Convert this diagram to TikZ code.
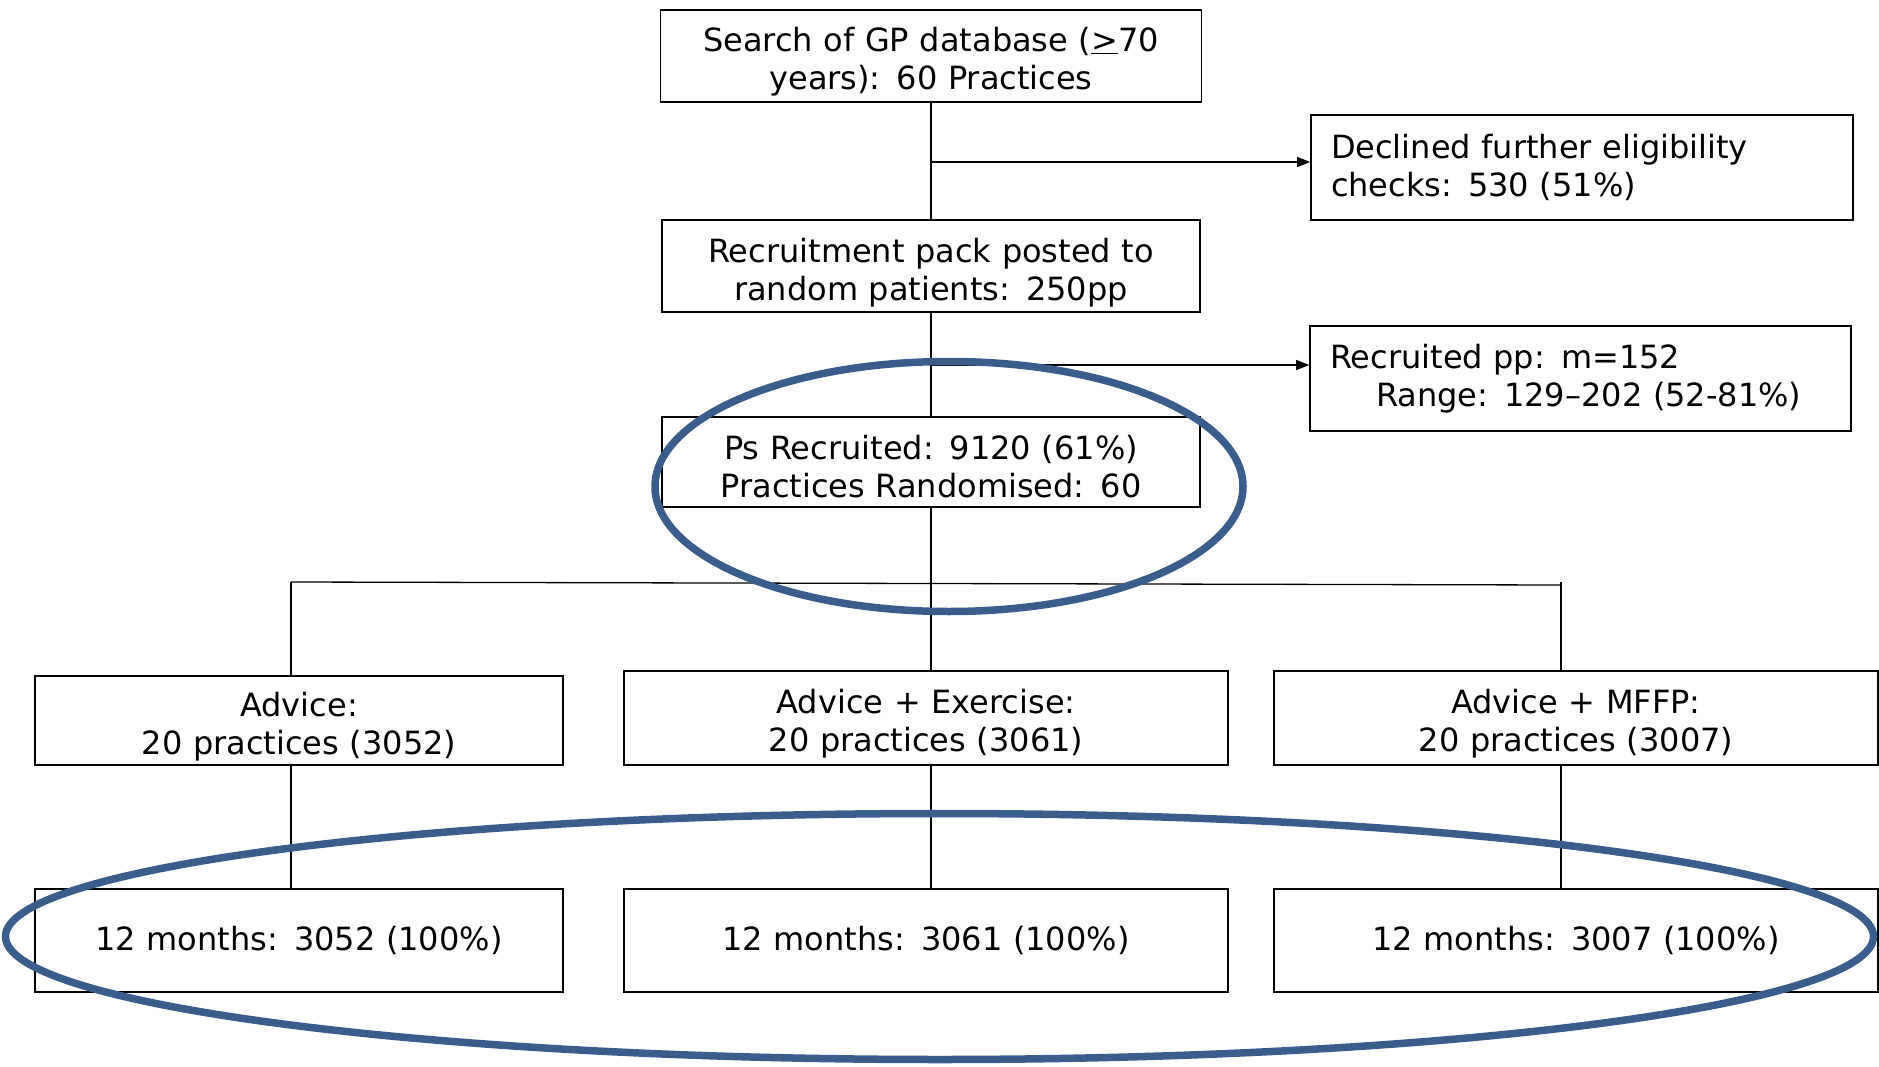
\documentclass[tikz,border=0pt]{standalone}
\usepackage{fontspec}
\setmainfont{DejaVu Sans}
\usetikzlibrary{arrows.meta}
\definecolor{ringblue}{HTML}{3A5E8C}
\begin{document}
\begin{tikzpicture}[x=1pt,y=-1pt,
  box/.style 2 args={draw=black,line width=1.6pt,inner sep=0pt,align=center,
    font=\fontsize{32}{38}\selectfont,
    minimum width=#1,text width=#1-20pt,minimum height=#2},
  % a taller first line pushes the text block a little below the middle
  lower/.style={execute at begin node={\rule{0pt}{#1}}},
  leftbox/.style 2 args={box={#1}{#2},align=left,text width=#1-40pt},
  link/.style={line width=1.3pt},
  feed/.style={link,-{Triangle[length=13pt,width=10pt]}},
  ring/.style={draw=ringblue,line width=7.5pt}]
\useasboundingbox (0,0) rectangle (1879,1067);

% main column
\node[box={541pt}{92pt},lower=36pt] (search) at (931,56)
  {Search of GP database (\underline{>}70\\years): 60 Practices};
\node[box={538pt}{92pt},lower=38pt] (pack) at (931,266)
  {Recruitment pack posted to\\random patients: 250pp};
\node[box={538pt}{90pt},lower=34pt] (rand) at (931,462)
  {Ps Recruited: 9120 (61\%)\\Practices Randomised: 60};

% side boxes
\node[leftbox={542pt}{105pt}] (decl) at (1582,167.5)
  {Declined further eligibility\\checks: 530 (51\%)};
\node[leftbox={541pt}{105pt}] (recpp) at (1580.5,378.5)
  {Recruited pp: m=152\\\hspace*{46pt}Range: 129--202 (52-81\%)};

% arms
\node[box={528pt}{89pt},lower=37pt] (armA) at (299,720.5)
  {Advice:\\20 practices (3052)};
\node[box={604pt}{94pt},lower=35pt] (armB) at (926,718)
  {Advice + Exercise:\\20 practices (3061)};
\node[box={604pt}{94pt},lower=35pt] (armC) at (1576,718)
  {Advice + MFFP:\\20 practices (3007)};

% follow-up
\node[box={528pt}{103pt}] (fupA) at (299,940.5)
  {12 months: 3052 (100\%)};
\node[box={604pt}{103pt}] (fupB) at (926,940.5)
  {12 months: 3061 (100\%)};
\node[box={604pt}{103pt}] (fupC) at (1576,940.5)
  {12 months: 3007 (100\%)};

% junctions
\coordinate (j1) at (931,162);
\coordinate (j2) at (931,365);
\coordinate (bl) at (291,582);
\coordinate (bm) at (931,583.5);
\coordinate (br) at (1561,585);

% connectors
\draw[link] (search.south) -- (pack.north);
\draw[link] (pack.south) -- (rand.north);
\draw[link] (rand.south) -- (rand.south |- armB.north);
\draw[feed] (j1) -- (j1 -| decl.west);
\draw[feed] (j2) -- (j2 -| recpp.west);
\draw[link] (bl) -- (bm) -- (br);
\draw[link] (bl) -- (bl |- armA.north);
\draw[link] (1561,582) -- (br |- armC.north);
\draw[link] (bl |- armA.south) -- (bl |- fupA.north);
\draw[link] (bm |- armB.south) -- (bm |- fupB.north);
\draw[link] (br |- armC.south) -- (br |- fupC.north);

% highlight rings
\draw[ring] (949,486.5) ellipse [x radius=294pt, y radius=125pt];
\draw[ring] (939.5,936.5) ellipse [x radius=934pt, y radius=123pt];
\end{tikzpicture}
\end{document}
